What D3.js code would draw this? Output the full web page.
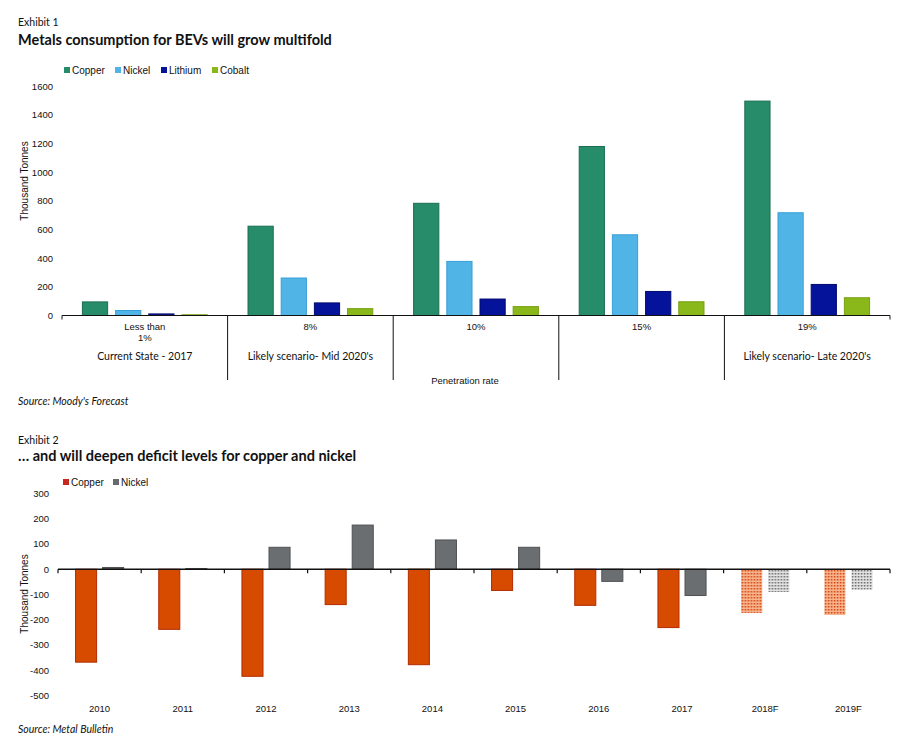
<!DOCTYPE html>
<html>
<head>
<meta charset="utf-8">
<script src="https://cdn.jsdelivr.net/npm/d3@7"></script>
<style>
  body { margin: 0; background: #fff; }
  text { font-family: "Liberation Sans", Arial, sans-serif; fill: #111; }
  .hum { font-family: Lato, "Open Sans", sans-serif; }
</style>
</head>
<body>
<div id="chart"></div>
<script>
// Exhibit 1 data
const rates = ["Less than 1%", "8%", "10%", "15%", "19%"];
const scenarios = ["Current State - 2017", "Likely scenario- Mid 2020's", "", "", "Likely scenario- Late 2020's"];
const metals = ["Copper", "Nickel", "Lithium", "Cobalt"];
const copperUse = [95, 624, 784, 1181, 1498];
const nickelUse = [35, 262, 378, 564, 718];
const lithiumUse = [11, 88, 115, 168, 217];
const cobaltUse = [5, 48, 62, 96, 124];
const useTicks = [0, 200, 400, 600, 800, 1000, 1200, 1400, 1600];

// Exhibit 2 data
const years = ["2010", "2011", "2012", "2013", "2014", "2015", "2016", "2017", "2018F", "2019F"];
const forecastYears = ["2018F", "2019F"];
const copperBalance = [-368, -238, -424, -140, -378, -84, -143, -231, -173, -181];
const nickelBalance = [7, 3, 87, 175, 116, 87, -48, -104, -90, -81];
const balanceTicks = [-500, -400, -300, -200, -100, 0, 100, 200, 300];

const width = 900, height = 755;

const svg = d3.select("#chart").append("svg")
    .attr("width", width)
    .attr("height", height);

const defs = svg.append("defs");

// dotted fills for the forecast bars
const pCu = defs.append("pattern").attr("id", "dotCopper")
    .attr("width", 3).attr("height", 3).attr("patternUnits", "userSpaceOnUse");
pCu.append("rect").attr("width", 3).attr("height", 3).attr("fill", "#f7b48c");
pCu.append("rect").attr("width", 1.5).attr("height", 1.5).attr("fill", "#d2400e");
const pNi = defs.append("pattern").attr("id", "dotNickel")
    .attr("width", 3).attr("height", 3).attr("patternUnits", "userSpaceOnUse");
pNi.append("rect").attr("width", 3).attr("height", 3).attr("fill", "#e2e2e2");
pNi.append("rect").attr("width", 1.5).attr("height", 1.5).attr("fill", "#666");

// ---------- Exhibit 1 ----------
svg.append("text").attr("class", "hum").attr("x", 18).attr("y", 26)
    .style("font-size", "10.5px").text("Exhibit 1");
svg.append("text").attr("class", "hum").attr("x", 18).attr("y", 45)
    .style("font-size", "14.5px").style("font-weight", "bold")
    .text("Metals consumption for BEVs will grow multifold");

const useColors = d3.scaleOrdinal().domain(metals)
    .range(["#268c69", "#50b4e6", "#05129a", "#8ab81a"]);
const useStroke = d3.scaleOrdinal().domain(metals)
    .range(["#1a6e50", "#3a9fd6", "#030a70", "#76a010"]);

const x1 = d3.scaleBand().domain(rates).range([62, 890]);
const x1Inner = d3.scaleBand().domain(metals).range([0, x1.bandwidth()])
    .paddingInner(0.21).paddingOuter(0.6);
const y1 = d3.scaleLinear().domain([0, 1600]).range([315.5, 86.5]);

const useRows = rates.map(function(r, i) {
  return { rate: r, values: [copperUse[i], nickelUse[i], lithiumUse[i], cobaltUse[i]] };
});

// y tick labels
svg.append("g").selectAll("text").data(useTicks).enter().append("text")
    .attr("x", 53).attr("y", d => y1(d)).attr("dy", "0.35em")
    .attr("text-anchor", "end").style("font-size", "9.5px")
    .text(d => d);

svg.append("text")
    .attr("transform", "translate(28,181) rotate(-90)")
    .attr("text-anchor", "middle").style("font-size", "10px")
    .text("Thousand Tonnes");

svg.append("g").selectAll("g").data(useRows).enter().append("g")
    .attr("transform", d => "translate(" + x1(d.rate) + ",0)")
    .selectAll("rect")
    .data(d => metals.map((m, j) => ({ key: m, value: d.values[j] })))
    .enter().append("rect")
    .attr("x", d => x1Inner(d.key) + 0.5)
    .attr("y", d => y1(d.value))
    .attr("width", x1Inner.bandwidth() - 1)
    .attr("height", d => y1(0) - y1(d.value))
    .attr("fill", d => useColors(d.key))
    .attr("stroke", d => useStroke(d.key))
    .attr("stroke-width", 1);

// x axis with group dividers
const ax1 = svg.append("g");
ax1.append("line").attr("x1", 62).attr("x2", 890).attr("y1", y1(0)).attr("y2", y1(0))
    .attr("stroke", "#111").attr("stroke-width", 1.2);
ax1.selectAll(".div").data(rates.slice(1)).enter().append("line")
    .attr("x1", d => x1(d)).attr("x2", d => x1(d))
    .attr("y1", y1(0)).attr("y2", 380)
    .attr("stroke", "#111").attr("stroke-width", 1);
ax1.selectAll(".end").data([62, 890]).enter().append("line")
    .attr("x1", d => d).attr("x2", d => d).attr("y1", y1(0)).attr("y2", y1(0) + 4)
    .attr("stroke", "#111").attr("stroke-width", 1);

const rateLabels = ax1.selectAll(".rate").data(rates).enter().append("text")
    .attr("x", d => x1(d) + x1.bandwidth() / 2)
    .attr("y", 330)
    .attr("text-anchor", "middle").style("font-size", "9.5px");
rateLabels.each(function(d) {
  const t = d3.select(this);
  const parts = d === "Less than 1%" ? ["Less than", "1%"] : [d];
  parts.forEach((p, k) => {
    t.append("tspan").attr("x", x1(d) + x1.bandwidth() / 2)
        .attr("dy", k === 0 ? 0 : "1.2em").text(p);
  });
});

ax1.selectAll(".scen").data(rates).enter().append("text")
    .attr("class", "hum")
    .attr("x", d => x1(d) + x1.bandwidth() / 2)
    .attr("y", 360)
    .attr("text-anchor", "middle").style("font-size", "10.5px")
    .text((d, i) => scenarios[i]);

svg.append("text").attr("x", 465).attr("y", 384)
    .attr("text-anchor", "middle").style("font-size", "9.5px")
    .text("Penetration rate");

// legend
const leg1 = svg.append("g").selectAll("g").data(metals).enter().append("g")
    .attr("transform", (d, i) => "translate(" + [64, 115, 161, 212][i] + ",70)");
leg1.append("rect").attr("x", 0).attr("y", -3).attr("width", 6).attr("height", 6)
    .attr("fill", d => useColors(d));
leg1.append("text").attr("x", 8).attr("dy", "0.35em")
    .style("font-size", "10px").text(d => d);

svg.append("text").attr("class", "hum").attr("x", 18).attr("y", 405)
    .style("font-size", "10.5px").style("font-style", "italic")
    .text("Source: Moody's Forecast");

// ---------- Exhibit 2 ----------
svg.append("text").attr("class", "hum").attr("x", 18).attr("y", 444)
    .style("font-size", "10.5px").text("Exhibit 2");
svg.append("text").attr("class", "hum").attr("x", 18).attr("y", 461)
    .style("font-size", "14.5px").style("font-weight", "bold")
    .text("\u2026 and will deepen deficit levels for copper and nickel");

const balSeries = ["Copper", "Nickel"];
const balColors = { Copper: "#d64b00", Nickel: "#6b6e71" };
const balStroke = { Copper: "#b32c00", Nickel: "#4f5254" };
const balLegend = { Copper: "#c8281e", Nickel: "#666a6d" };

const x2 = d3.scaleBand().domain(years).range([58, 890]);
const x2Inner = d3.scaleBand().domain(balSeries).range([0, x2.bandwidth()])
    .paddingInner(0.185).paddingOuter(0.63);
const y2 = d3.scaleLinear().domain([-500, 300]).range([695.5, 493.5]);

svg.append("g").selectAll("text").data(balanceTicks).enter().append("text")
    .attr("x", 49).attr("y", d => y2(d)).attr("dy", "0.35em")
    .attr("text-anchor", "end").style("font-size", "9.5px")
    .text(d => d);

svg.append("text")
    .attr("transform", "translate(28,594) rotate(-90)")
    .attr("text-anchor", "middle").style("font-size", "10px")
    .text("Thousand Tonnes");

const balRows = years.map((y, i) => ({ year: y, values: [copperBalance[i], nickelBalance[i]] }));

svg.append("g").selectAll("g").data(balRows).enter().append("g")
    .attr("transform", d => "translate(" + x2(d.year) + ",0)")
    .selectAll("rect")
    .data(d => balSeries.map((s, j) => ({ key: s, value: d.values[j], year: d.year })))
    .enter().append("rect")
    .attr("x", d => x2Inner(d.key) + 0.5)
    .attr("y", d => y2(Math.max(0, d.value)))
    .attr("width", x2Inner.bandwidth() - 1)
    .attr("height", d => Math.abs(y2(d.value) - y2(0)))
    .attr("fill", d => forecastYears.includes(d.year)
        ? (d.key === "Copper" ? "url(#dotCopper)" : "url(#dotNickel)")
        : balColors[d.key])
    .attr("stroke", d => forecastYears.includes(d.year) ? "none" : balStroke[d.key])
    .attr("stroke-width", 1);

const ax2 = svg.append("g");
ax2.append("line").attr("x1", 58).attr("x2", 890).attr("y1", y2(0)).attr("y2", y2(0))
    .attr("stroke", "#111").attr("stroke-width", 1.5);
ax2.selectAll(".tick").data(years.slice(1).map(d => x2(d)).concat([58, 890]))
    .enter().append("line")
    .attr("x1", d => d).attr("x2", d => d)
    .attr("y1", y2(0)).attr("y2", y2(0) + 4)
    .attr("stroke", "#111").attr("stroke-width", 1.2);
ax2.selectAll(".yr").data(years).enter().append("text")
    .attr("x", d => x2(d) + x2.bandwidth() / 2)
    .attr("y", 712)
    .attr("text-anchor", "middle").style("font-size", "9.5px")
    .text(d => d);

const leg2 = svg.append("g").selectAll("g").data(balSeries).enter().append("g")
    .attr("transform", (d, i) => "translate(" + [63, 113][i] + ",482)");
leg2.append("rect").attr("x", 0).attr("y", -3).attr("width", 6).attr("height", 6)
    .attr("fill", d => balLegend[d]);
leg2.append("text").attr("x", 8).attr("dy", "0.35em")
    .style("font-size", "10px").text(d => d);

svg.append("text").attr("class", "hum").attr("x", 18).attr("y", 733)
    .style("font-size", "10.5px").style("font-style", "italic")
    .text("Source: Metal Bulletin");
</script>
</body>
</html>
